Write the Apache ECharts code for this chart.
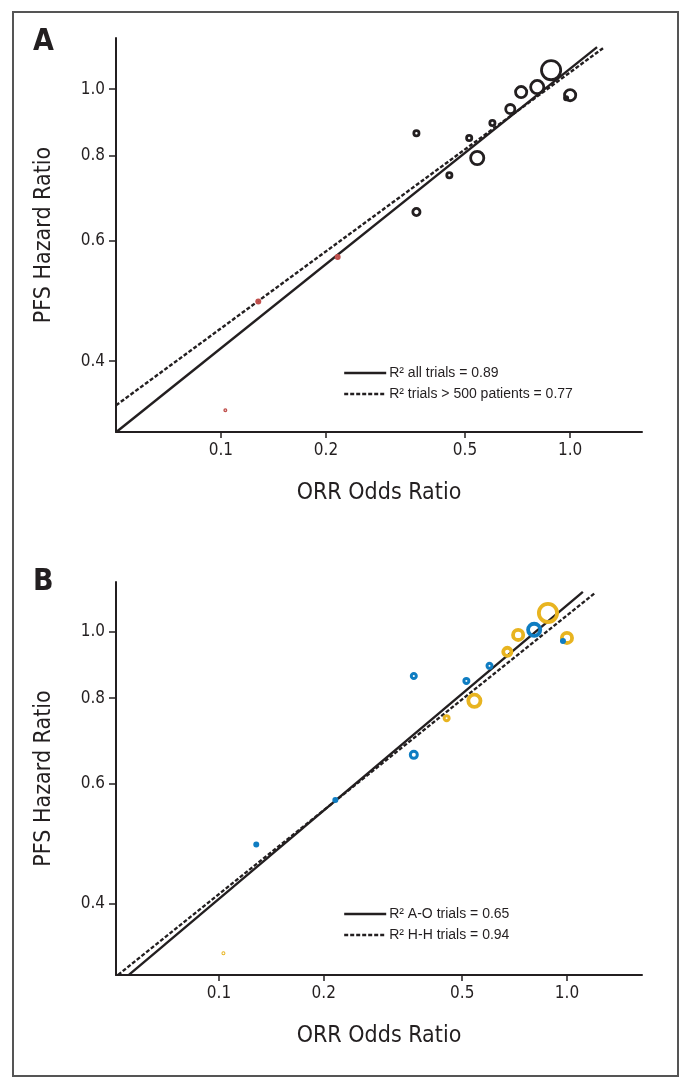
<!DOCTYPE html>
<html>
<head>
<meta charset="utf-8">
<script src="https://cdn.jsdelivr.net/npm/echarts@6/dist/echarts.min.js"></script>
<style>
html,body{margin:0;padding:0;background:#fff;}
#chart{width:682px;height:1078px;}
</style>
</head>
<body>
<div id="chart"></div>
<script>
// ---- data ----
const orrOddsRatio = [0.882, 0.805, 0.724, 1.0, 0.974, 0.674, 0.599, 0.363, 0.514, 0.542, 0.451, 0.363, 0.216, 0.128, 0.103];
const pfsHazardRatio = [1.066, 1.007, 0.990, 0.980, 0.970, 0.935, 0.892, 0.862, 0.848, 0.793, 0.748, 0.661, 0.568, 0.489, 0.339];
const trialWeight = [11, 8, 7, 7, 3, 6, 4, 4, 4, 8, 4, 5, 3, 3, 2];
const smallTrialFlag = [0, 0, 0, 0, 0, 0, 0, 0, 0, 0, 0, 0, 1, 1, 1];
const comparisonType = ['H-H', 'A-O', 'H-H', 'H-H', 'A-O', 'H-H', 'A-O', 'A-O', 'A-O', 'H-H', 'H-H', 'A-O', 'A-O', 'A-O', 'H-H'];

const xTickValues = [0.1, 0.2, 0.5, 1.0];
const yTickValues = [0.4, 0.6, 0.8, 1.0];

// regression lines: [ORR OR, PFS HR] end points
const fitAllTrials = [[0.0501, 0.3147], [1.194, 1.152]];
const fitLargeTrials = [[0.0501, 0.3446], [1.242, 1.148]];
const fitAOTrials = [[0.0551, 0.3151], [1.111, 1.144]];
const fitHHTrials = [[0.0513, 0.3151], [1.203, 1.140]];

const legendA = ['R\u00B2 all trials = 0.89', 'R\u00B2 trials > 500 patients = 0.77'];
const legendB = ['R\u00B2 A-O trials = 0.65', 'R\u00B2 H-H trials = 0.94'];

// ---- build ----
const narrow = "'Liberation Sans Narrow', 'DejaVu Sans Condensed', 'Roboto Condensed', sans-serif";
const sans = "'Liberation Sans', Arial, sans-serif";
const ink = '#231f20';

function pts(filterFn) {
  const out = [];
  for (let i = 0; i < orrOddsRatio.length; i++) {
    if (filterFn(i)) out.push([orrOddsRatio[i], pfsHazardRatio[i], trialWeight[i]]);
  }
  return out;
}

function xAxisCfg(idx, min, max) {
  return {
    type: 'log', logBase: 10, gridIndex: idx, min: min, max: max,
    name: 'ORR Odds Ratio', nameLocation: 'middle', nameGap: 50,
    nameTextStyle: { fontFamily: narrow, fontSize: 23, color: ink },
    axisLine: { lineStyle: { color: ink, width: 2 } },
    axisTick: { customValues: xTickValues, length: 6, lineStyle: { color: ink, width: 1.5 } },
    axisLabel: { customValues: xTickValues, formatter: v => Number(v).toFixed(1), fontFamily: narrow, fontSize: 17, color: ink, margin: 10 },
    splitLine: { show: false }, minorTick: { show: false }
  };
}
function yAxisCfg(idx, min, max) {
  return {
    type: 'log', logBase: 10, gridIndex: idx, min: min, max: max,
    name: 'PFS Hazard Ratio', nameLocation: 'middle', nameGap: 60,
    nameTextStyle: { fontFamily: narrow, fontSize: 23, color: ink },
    axisLine: { lineStyle: { color: ink, width: 2 } },
    axisTick: { customValues: yTickValues, length: 7, lineStyle: { color: ink, width: 1.5 } },
    axisLabel: { customValues: yTickValues, formatter: v => Number(v).toFixed(1), fontFamily: narrow, fontSize: 17, color: ink, margin: 11 },
    splitLine: { show: false }, minorTick: { show: false }
  };
}

function scatter(idx, data, color, bw) {
  return {
    type: 'scatter', xAxisIndex: idx, yAxisIndex: idx, data: data,
    symbol: 'circle',
    symbolSize: d => d[2] * 2 - bw,
    itemStyle: { color: 'rgba(255,255,255,0)', borderColor: color, borderWidth: bw, opacity: 1 },
    emphasis: { disabled: true }, z: 3, silent: true
  };
}
function scatterSeries(idx, data, color, thick) {
  const groups = {};
  data.forEach(d => {
    let bw;
    if (thick) bw = d[2] >= 6 ? 3.8 : 3.0;
    else bw = d[2] <= 2 ? 1.4 : 2.8;
    (groups[bw] = groups[bw] || []).push(d);
  });
  return Object.keys(groups).map(bw => scatter(idx, groups[bw], color, Number(bw)));
}

function lineSeries(idx, name, data, dashed) {
  return {
    type: 'line', name: name, xAxisIndex: idx, yAxisIndex: idx, data: data,
    symbol: 'none', showSymbol: false, silent: true, z: 2,
    itemStyle: { color: ink },
    lineStyle: { color: ink, width: 2.4, type: dashed ? [4, 2] : 'solid' }
  };
}

const series = [].concat(
  lineSeries(0, legendA[0], fitAllTrials, false),
  lineSeries(0, legendA[1], fitLargeTrials, true),
  scatterSeries(0, pts(i => !smallTrialFlag[i]), ink, false),
  scatterSeries(0, pts(i => !!smallTrialFlag[i]), '#c0504d', false),
  lineSeries(1, legendB[0], fitAOTrials, false),
  lineSeries(1, legendB[1], fitHHTrials, true),
  scatterSeries(1, pts(i => comparisonType[i] === 'H-H'), '#e8b420', true),
  scatterSeries(1, pts(i => comparisonType[i] === 'A-O'), '#0f7dc2', true)
);

const legendCfg = (names, top) => ({
  data: names, orient: 'vertical', left: 338, top: top,
  itemWidth: 42, itemHeight: 14, itemGap: 7, selectedMode: false,
  itemStyle: { color: 'rgba(0,0,0,0)', borderWidth: 0, opacity: 0 },
  lineStyle: { color: ink, width: 2.4 },
  textStyle: { fontFamily: sans, fontSize: 14, color: ink, padding: [0, 0, 0, -2] },
  inactiveColor: ink
});

const option = {
  animation: false,
  backgroundColor: '#fff',
  title: [
    { text: 'A', left: 28, top: 22, textStyle: { fontFamily: narrow, fontSize: 30, fontWeight: 'bold', color: ink } },
    { text: 'B', left: 28, top: 562, textStyle: { fontFamily: narrow, fontSize: 30, fontWeight: 'bold', color: ink } }
  ],
  grid: [
    { left: 116, top: 38, width: 526, height: 394 },
    { left: 116, top: 582, width: 526, height: 393 }
  ],
  xAxis: [xAxisCfg(0, 0.0501, 1.606), xAxisCfg(1, 0.0506, 1.643)],
  yAxis: [yAxisCfg(0, 0.315, 1.188), yAxisCfg(1, 0.315, 1.183)],
  legend: [legendCfg(legendA, 361), legendCfg(legendB, 902)],
  graphic: [
    { type: 'rect', shape: { x: 13, y: 12, width: 665, height: 1064 }, style: { fill: 'none', stroke: '#555', lineWidth: 2 }, silent: true, z: -1 }
  ],
  series: series
};

const chart = echarts.init(document.getElementById('chart'), null, { renderer: 'canvas' });
chart.setOption(option);
</script>
</body>
</html>
